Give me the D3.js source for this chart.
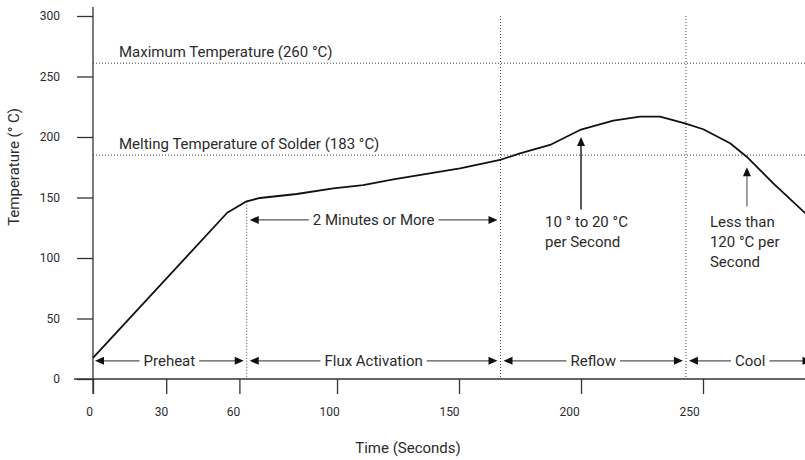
<!DOCTYPE html>
<html>
<head>
<meta charset="utf-8">
<script src="https://cdn.jsdelivr.net/npm/d3@7"></script>
<style>
body { margin: 0; background: #fff; }
svg text { font-family: Roboto, "Liberation Sans", sans-serif; fill: #2b2b2b; }
</style>
</head>
<body>
<div id="chart"></div>
<script>
// reflow profile (seconds, °C)
var times = [0, 55, 62.6, 68.4, 83.5, 98.5, 110.7, 123.1, 150.4, 166.8, 175, 187.3, 199.6, 213.2, 224.2, 232.4, 242.6, 250.1, 261.1, 267.9, 278.8, 292];
var temps = [17.4, 137.4, 146.5, 149.6, 152.9, 157.6, 160.3, 165, 174.1, 181, 186.5, 193.4, 205.8, 213.5, 216.8, 216.8, 211.3, 206.4, 194.8, 183.7, 161.7, 136.9];

var xTicks = [0, 30, 60, 100, 150, 200, 250];
var yTicks = [0, 50, 100, 150, 200, 250, 300];

var phaseNames = ["Preheat", "Flux Activation", "Reflow", "Cool"];
var phaseBounds = [0, 63, 167, 243, 292];
var dividerTops = [146.5, 300, 300];

var limitTemps = [261, 185];
var limitLabels = ["Maximum Temperature (260 \u00b0C)", "Melting Temperature of Solder (183 \u00b0C)"];

var soakLabel = "2 Minutes or More";
var soakLevel = 131.5;

var rateTimes = [200, 268];
var rateFrom = [140, 142.5];
var rateTo = [200, 175];
var rateLabels = [["10 \u00b0 to 20 \u00b0C", "per Second"], ["Less than", "120 \u00b0C per", "Second"]];

function drawChart() {
    "use strict";
    var width = 805, height = 460;
    var svg = d3.select("#chart")
        .append("svg")
        .attr("width", width)
        .attr("height", height);

    var x = d3.scaleLinear().domain([0, 292]).range([93, 805.5]);
    var y = d3.scaleLinear().domain([0, 300]).range([379, 16]);
    // tick labels in the original sit a little left of their ticks
    var xLabel = d3.scaleLinear().domain([0, 250]).range([89, 689]);

    var dots = "1,2";
    var textSize = "15px";
    var tickSize = "12px";

    // dotted limit lines
    limitTemps.forEach(function (t, i) {
        svg.append("line")
            .attr("x1", x(0)).attr("x2", width)
            .attr("y1", y(t)).attr("y2", y(t))
            .attr("stroke", "#444")
            .attr("stroke-dasharray", dots);
        svg.append("text")
            .attr("x", 119)
            .attr("y", y(t) - 6)
            .style("font-size", textSize)
            .text(limitLabels[i]);
    });

    // dotted phase dividers
    phaseBounds.slice(1, 4).forEach(function (b, i) {
        svg.append("line")
            .attr("x1", x(b)).attr("x2", x(b))
            .attr("y1", y(dividerTops[i])).attr("y2", y(0))
            .attr("stroke", "#444")
            .attr("stroke-dasharray", dots);
    });

    // axes
    var xAxis = svg.append("g")
        .attr("transform", "translate(0," + y(0) + ")")
        .call(d3.axisBottom(x).tickValues(xTicks).tickSize(15).tickPadding(13));
    xAxis.select(".domain").remove();
    xAxis.selectAll(".tick line").attr("stroke", "#333").attr("stroke-width", 1.3);
    xAxis.selectAll(".tick text")
        .attr("x", function (d) { return xLabel(d) - x(d); })
        .style("font-size", tickSize);

    var yAxis = svg.append("g")
        .attr("transform", "translate(" + x(0) + ",0)")
        .call(d3.axisLeft(y).tickValues(yTicks).tickSize(16).tickPadding(17));
    yAxis.select(".domain").remove();
    yAxis.selectAll(".tick line").attr("stroke", "#333").attr("stroke-width", 1.3);
    yAxis.selectAll(".tick text").style("font-size", tickSize);

    svg.append("line")
        .attr("x1", 74).attr("x2", width)
        .attr("y1", y(0)).attr("y2", y(0))
        .attr("stroke", "#333").attr("stroke-width", 1.3);
    svg.append("line")
        .attr("x1", x(0)).attr("x2", x(0))
        .attr("y1", 7).attr("y2", y(0) + 15)
        .attr("stroke", "#333").attr("stroke-width", 1.3);

    svg.append("text")
        .attr("x", 408).attr("y", 453)
        .attr("text-anchor", "middle")
        .style("font-size", textSize)
        .text("Time (Seconds)");
    svg.append("text")
        .attr("transform", "translate(19,167) rotate(-90)")
        .attr("text-anchor", "middle")
        .style("font-size", textSize)
        .text("Temperature (\u00b0 C)");

    // profile curve
    var profile = times.map(function (t, i) { return [t, temps[i]]; });
    svg.append("path")
        .datum(profile)
        .attr("fill", "none")
        .attr("stroke", "#111")
        .attr("stroke-width", 1.8)
        .attr("stroke-linejoin", "round")
        .attr("d", d3.line()
            .x(function (d) { return x(d[0]); })
            .y(function (d) { return y(d[1]); }));

    function head(px, py, dir) {
        // dir: -1 left, 1 right, 0 up
        var pts;
        if (dir === 0) {
            pts = [[px, py], [px - 4, py + 9], [px + 4, py + 9]];
        } else {
            pts = [[px, py], [px - dir * 9, py - 4], [px - dir * 9, py + 4]];
        }
        svg.append("polygon")
            .attr("points", pts.map(function (p) { return p.join(","); }).join(" "))
            .attr("fill", "#111");
    }

    function span(x0, x1, py, label) {
        var t = svg.append("text")
            .attr("x", (x0 + x1) / 2)
            .attr("y", py)
            .attr("dy", "0.35em")
            .attr("text-anchor", "middle")
            .style("font-size", textSize)
            .text(label);
        var w = t.node().getComputedTextLength();
        var mid = (x0 + x1) / 2;
        [[x0 + 8, mid - w / 2 - 4], [mid + w / 2 + 4, x1 - 8]].forEach(function (s) {
            svg.append("line")
                .attr("x1", s[0]).attr("x2", s[1])
                .attr("y1", py).attr("y2", py)
                .attr("stroke", "#555").attr("stroke-width", 1.3);
        });
        head(x0, py, -1);
        head(x1, py, 1);
    }

    // phase arrows along the bottom
    phaseNames.forEach(function (name, i) {
        var a = x(phaseBounds[i]) + (i === 0 ? 2 : 3);
        var b = i === phaseNames.length - 1 ? x(phaseBounds[i + 1]) + 6 : x(phaseBounds[i + 1]) - 3;
        span(a, b, y(15), name);
    });

    span(x(phaseBounds[1]) + 3, x(phaseBounds[2]) - 3, y(soakLevel), soakLabel);

    // ramp rate call-outs
    rateTimes.forEach(function (t, i) {
        svg.append("line")
            .attr("x1", x(t)).attr("x2", x(t))
            .attr("y1", y(rateFrom[i])).attr("y2", y(rateTo[i]) + 8)
            .attr("stroke", i === 0 ? "#111" : "#777")
            .attr("stroke-width", 1.4);
        head(x(t), y(rateTo[i]), 0);
        var left = x(t) - (i === 0 ? 36 : 37);
        var txt = svg.append("text")
            .attr("y", 226.7)
            .style("font-size", textSize);
        rateLabels[i].forEach(function (line, k) {
            txt.append("tspan")
                .attr("x", left)
                .attr("dy", k === 0 ? 0 : 20)
                .text(line);
        });
    });
}

drawChart();
</script>
</body>
</html>
